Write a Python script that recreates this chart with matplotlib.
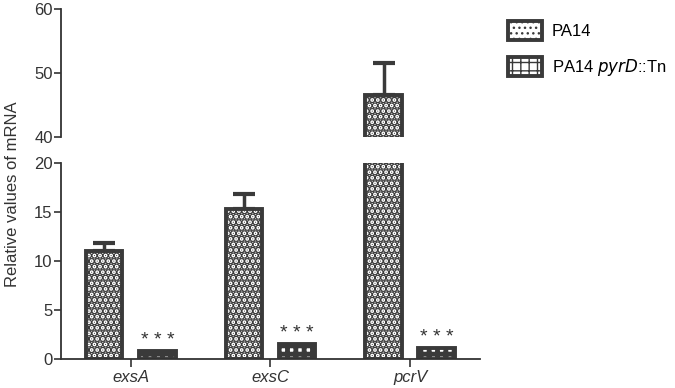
import numpy as np
import matplotlib.pyplot as plt

plt.rcParams['font.family'] = ['Liberation Sans', 'DejaVu Sans']
plt.rcParams['hatch.color'] = '#3a3a3a'

# data
genes = ['exsA', 'exsC', 'pcrV']
pa14 = [11.0, 15.3, 46.6]
pa14_err = [0.8, 1.5, 5.0]
mutant = [0.8, 1.5, 1.1]
series_names = ['PA14', 'PA14 $\\it{pyrD}$::Tn']

dark = '#3a3a3a'
x = np.arange(len(genes))
w = 0.26
off = 0.19


def hatch_lw(bars, lw):
    for p in bars:
        if hasattr(p, 'set_hatch_linewidth'):
            p.set_hatch_linewidth(lw)


fig = plt.figure(figsize=(6.75, 3.88), dpi=100)
ax_top = fig.add_axes([0.0904, 0.647, 0.6206, 0.330])
ax_bot = fig.add_axes([0.0904, 0.0747, 0.6206, 0.5053])

handles = []
for ax in (ax_top, ax_bot):
    b1 = ax.bar(x - off, pa14, w, color='white', edgecolor=dark, linewidth=2.8,
                hatch='...', zorder=2)
    b2 = ax.bar(x + off, mutant, w, color='white', edgecolor=dark, linewidth=2.8,
                hatch='++', zorder=2)
    hatch_lw(b1, 3.6)
    hatch_lw(b2, 3.5)
    ax.errorbar(x - off, pa14, yerr=[np.zeros(3), pa14_err], fmt='none',
                ecolor=dark, elinewidth=2.5, capsize=8, capthick=3, zorder=1)
    ax.set_xlim(-0.5, 2.5)
    for s in ('top', 'right'):
        ax.spines[s].set_visible(False)
    ax.spines['left'].set_color('#333333')
    ax.spines['left'].set_linewidth(1.3)
    ax.tick_params(axis='y', direction='out', length=5, width=1.2, colors='#333333',
                   labelsize=12, pad=1)
    handles = [b1, b2]

ax_top.set_ylim(40, 60)
ax_top.set_yticks([40, 50, 60])
ax_top.spines['bottom'].set_visible(False)
ax_top.set_xticks([])

ax_bot.set_ylim(0, 20)
ax_bot.set_yticks([0, 5, 10, 15, 20])
ax_bot.spines['bottom'].set_color('#333333')
ax_bot.spines['bottom'].set_linewidth(1.3)
ax_bot.set_xticks(x)
ax_bot.set_xticklabels(genes, style='italic', fontsize=12)
ax_bot.tick_params(axis='x', direction='out', length=6, width=1.2, colors='#333333', pad=2)

for xi, v in zip(x + off, mutant):
    ax_bot.text(xi, v + 0.2, '* * *', ha='center', va='bottom', fontsize=14, color='#333333')

fig.text(0.018, 0.5, 'Relative values of mRNA', rotation=90, ha='center', va='center',
         fontsize=12, color='#333333')

fig.legend(handles, series_names, loc='upper left', bbox_to_anchor=(0.731, 0.985),
           frameon=False, fontsize=12, handlelength=2.0, handleheight=1.38,
           labelspacing=1.0, handletextpad=0.6)

fig.savefig('out.png', dpi=100)
